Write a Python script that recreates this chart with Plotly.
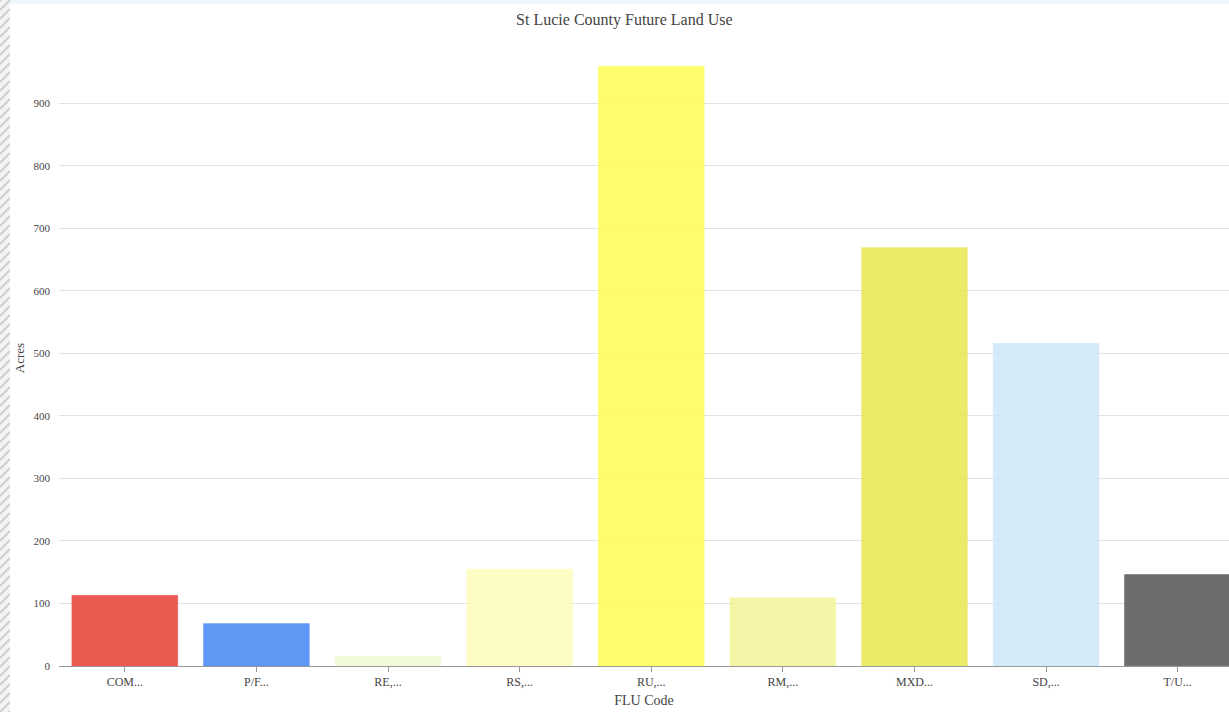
import plotly.graph_objects as go

categories = ["COM...", "P/F...", "RE,...", "RS,...", "RU,...", "RM,...", "MXD...", "SD,...", "T/U..."]
acres = [113, 68, 15, 155, 959, 109, 669, 516, 146]
colors = [
    "rgba(230,61,51,0.85)",
    "rgba(67,133,243,0.85)",
    "rgba(239,250,210,0.85)",
    "rgba(253,252,186,0.85)",
    "rgba(254,254,82,0.85)",
    "rgba(242,243,150,0.85)",
    "rgba(232,232,80,0.85)",
    "rgba(204,233,248,0.85)",
    "rgba(84,84,84,0.85)",
]
line_colors = [
    "rgba(230,61,51,0.3)",
    "rgba(67,133,243,0.3)",
    "rgba(239,250,210,0.3)",
    "rgba(253,252,186,0.3)",
    "rgba(254,254,82,0.3)",
    "rgba(242,243,150,0.3)",
    "rgba(232,232,80,0.3)",
    "rgba(204,233,248,0.3)",
    "rgba(120,120,120,1)",
]

FONT = "Liberation Serif"
TXT = "#444444"

W, H = 1229, 712
ML, MR, MT, MB = 59, 0, 50, 46
PW, PH = W - ML - MR, H - MT - MB


def px(xp):
    return (xp - ML) / PW


def py(yp):
    return (H - MB - yp) / PH


# decorative hatched strip at the left edge (page background behind the chart)
hatch = []
step = 9
for k in range(-2, H // step + 3):
    y_top = k * step
    hatch.append(f"M{px(0)},{py(y_top + 10)} L{px(10)},{py(y_top)}")
hatch_path = " ".join(hatch)

fig = go.Figure()
fig.add_trace(go.Bar(
    x=categories, y=acres,
    marker=dict(color=colors, line=dict(color=line_colors, width=1)),
    showlegend=False,
))

fig.update_layout(
    width=W, height=H,
    margin=dict(l=ML, r=MR, t=MT, b=MB),
    paper_bgcolor="white", plot_bgcolor="white",
    bargap=0.195,
    font=dict(family=FONT, color=TXT, size=12),
    title=dict(text="St Lucie County Future Land Use", x=0.508, xanchor="center",
               y=1 - 19 / H, yanchor="middle", font=dict(family=FONT, size=16, color=TXT)),
    shapes=[
        dict(type="rect", xref="paper", yref="paper", x0=px(0), x1=1, y0=py(4), y1=py(0),
             fillcolor="#eef8fb", line=dict(width=0), layer="below"),
        dict(type="rect", xref="paper", yref="paper", x0=px(0), x1=px(10), y0=py(H), y1=py(0),
             fillcolor="#f4f4f4", line=dict(width=0), layer="below"),
        dict(type="path", xref="paper", yref="paper", path=hatch_path,
             line=dict(color="#cfcfcf", width=2), layer="below"),
        dict(type="rect", xref="paper", yref="paper", x0=px(10), x1=px(ML - 1), y0=py(H), y1=py(4),
             fillcolor="white", line=dict(width=0), layer="below"),
    ],
)
fig.update_xaxes(
    range=[-0.5, 8.39],
    showline=True, linecolor="#9a9a9a", linewidth=1,
    ticks="outside", ticklen=5, tickcolor="#9a9a9a",
    showgrid=False,
    tickfont=dict(family=FONT, size=12, color=TXT),
    title=dict(text="FLU Code", font=dict(family=FONT, size=14, color=TXT), standoff=6),
)
fig.update_yaxes(
    range=[0, 985], dtick=100,
    showgrid=True, gridcolor="#e2e2e2", gridwidth=1,
    zeroline=False, showline=False,
    ticklabelstandoff=8,
    tickfont=dict(family=FONT, size=11, color=TXT),
    title=dict(text="Acres", font=dict(family=FONT, size=13, color=TXT), standoff=5),
)

fig.write_html("out.html")
